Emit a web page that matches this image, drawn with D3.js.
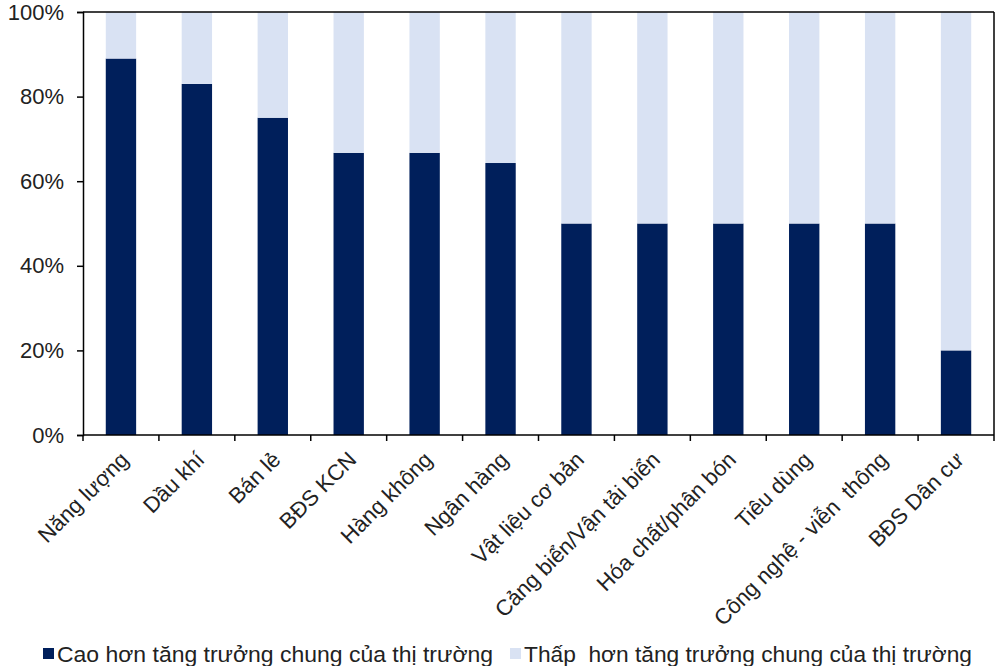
<!DOCTYPE html>
<html lang="vi">
<head>
<meta charset="utf-8">
<title>Tăng trưởng theo ngành</title>
<script src="https://cdn.jsdelivr.net/npm/d3@7"></script>
<style>
  body { margin: 0; background: #fff; }
  text { font-family: "Liberation Sans", Arial, sans-serif; fill: #222; }
</style>
</head>
<body>
<svg id="chart" width="1000" height="666"></svg>
<script>
// sectors and share of stocks beating / lagging the market (%)
var sectors = ["Năng lượng", "Dầu khí", "Bán lẻ", "BĐS KCN", "Hàng không", "Ngân hàng",
  "Vật liệu cơ bản", "Cảng biển/Vận tải biển", "Hóa chất/phân bón", "Tiêu dùng",
  "Công nghệ - viễn  thông", "BĐS Dân cư"];
var higher = [89, 83, 75, 66.7, 66.7, 64.3, 50, 50, 50, 50, 50, 20];
var lower = higher.map(function(v) { return 100 - v; });
var yTicks = [0, 20, 40, 60, 80, 100];
var seriesNames = ["Cao hơn tăng trưởng chung của thị trường", "Thấp  hơn tăng trưởng chung của thị trường"];
var colors = ["#001f5b", "#d9e2f3"];

var svg = d3.select("#chart");
var m = { left: 83, top: 12, right: 994, bottom: 435 };

var x = d3.scaleBand().domain(sectors).range([m.left, m.right]).paddingInner(0.6).paddingOuter(0.3);
var y = d3.scaleLinear().domain([0, 100]).range([m.bottom, m.top]);

var rows = sectors.map(function(s, i) { return { sector: s, higher: higher[i], lower: lower[i] }; });
var stack = d3.stack().keys(["higher", "lower"])(rows);

svg.selectAll("g.layer").data(stack).enter().append("g")
  .attr("class", "layer")
  .attr("fill", function(d, i) { return colors[i]; })
  .selectAll("rect").data(function(d) { return d; }).enter().append("rect")
  .attr("x", function(d) { return x(d.data.sector); })
  .attr("y", function(d) { return y(d[1]); })
  .attr("width", x.bandwidth())
  .attr("height", function(d) { return y(d[0]) - y(d[1]); });

// frame on top and right
svg.append("line").attr("x1", m.left).attr("x2", m.right).attr("y1", m.top).attr("y2", m.top)
  .attr("stroke", "#000").attr("stroke-width", 1.5);
svg.append("line").attr("x1", m.right).attr("x2", m.right).attr("y1", m.top).attr("y2", m.bottom)
  .attr("stroke", "#000").attr("stroke-width", 1.5);

// y axis
var yAxis = d3.axisLeft(y).tickValues(yTicks).tickSize(6).tickPadding(13)
  .tickFormat(function(d) { return d + "%"; });
var gy = svg.append("g").attr("transform", "translate(" + m.left + ",0)").call(yAxis);
gy.selectAll("text").style("font-size", "22px").attr("fill", "#222");
gy.selectAll("path, line").attr("stroke", "#000").attr("stroke-width", 1.5);

// x axis: ticks at category boundaries
var bounds = d3.range(sectors.length + 1).map(function(i) {
  return m.left + i * (m.right - m.left) / sectors.length;
});
var gx = svg.append("g").attr("transform", "translate(0," + m.bottom + ")");
gx.append("line").attr("x1", m.left).attr("x2", m.right).attr("stroke", "#000").attr("stroke-width", 1.5);
gx.selectAll("line.tick").data(bounds).enter().append("line")
  .attr("class", "tick")
  .attr("x1", function(d) { return d; }).attr("x2", function(d) { return d; })
  .attr("y1", 0).attr("y2", 6).attr("stroke", "#000").attr("stroke-width", 1.5);
gx.selectAll("text").data(sectors).enter().append("text")
  .attr("transform", function(d) {
    return "translate(" + (x(d) + x.bandwidth() / 2 + 9) + ",26) rotate(-45)";
  })
  .attr("text-anchor", "end")
  .style("font-size", "22px")
  .attr("xml:space", "preserve")
  .text(function(d) { return d; });

// legend
var legendX = [43, 510];
var legendW = [436, 448];
var lg = svg.selectAll("g.legend").data(seriesNames).enter().append("g")
  .attr("class", "legend")
  .attr("transform", function(d, i) { return "translate(" + legendX[i] + ",648)"; });
lg.append("rect").attr("width", 11).attr("height", 11)
  .attr("fill", function(d, i) { return colors[i]; });
lg.append("text").attr("x", 14).attr("y", 14)
  .style("font-size", "22px")
  .attr("xml:space", "preserve")
  .attr("textLength", function(d, i) { return legendW[i]; })
  .attr("lengthAdjust", "spacingAndGlyphs")
  .text(function(d) { return d; });
</script>
</body>
</html>
